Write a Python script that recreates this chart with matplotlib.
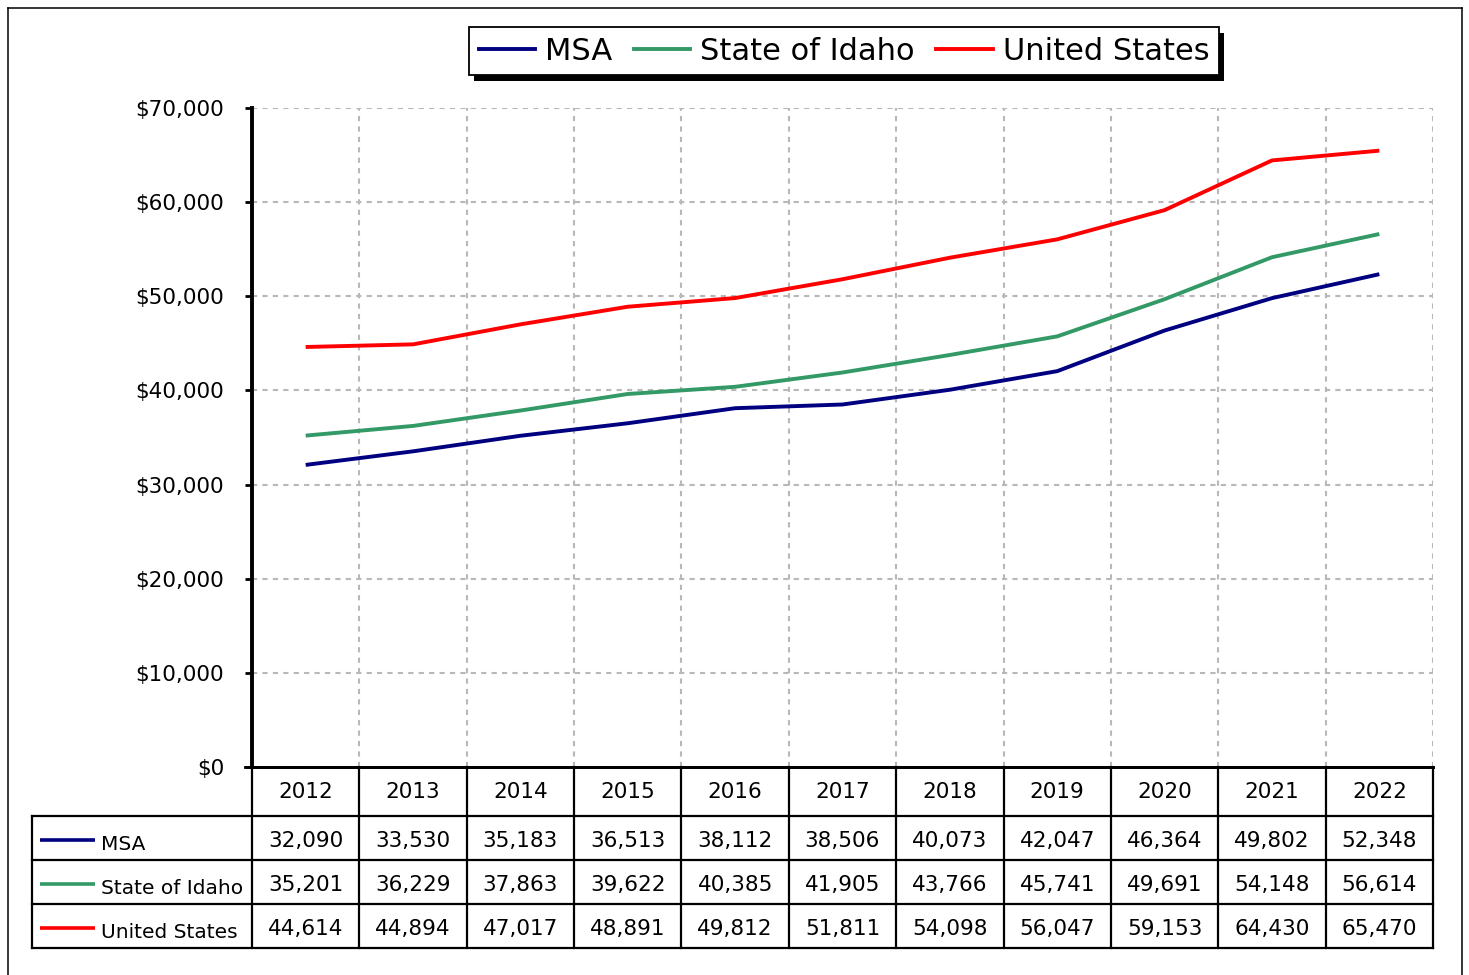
import matplotlib
matplotlib.use('Agg')
import matplotlib.pyplot as plt
from matplotlib.lines import Line2D
from matplotlib.patches import Rectangle
from matplotlib.ticker import FuncFormatter, FixedLocator, MultipleLocator

years = [2012, 2013, 2014, 2015, 2016, 2017, 2018, 2019, 2020, 2021, 2022]
msa = [32090, 33530, 35183, 36513, 38112, 38506, 40073, 42047, 46364, 49802, 52348]
idaho = [35201, 36229, 37863, 39622, 40385, 41905, 43766, 45741, 49691, 54148, 56614]
us = [44614, 44894, 47017, 48891, 49812, 51811, 54098, 56047, 59153, 64430, 65470]

series_names = ['MSA', 'State of Idaho', 'United States']
series_colors = ['#000080', '#339966', '#ff0000']
series_values = [msa, idaho, us]

W, H = 1469, 975
fig = plt.figure(figsize=(W / 100, H / 100), dpi=100)

# plot area (pixel layout)
ax = fig.add_axes([252 / W, 1 - 767 / H, 1181 / W, 659 / H])
x = list(range(len(years)))
for name, color, vals in zip(series_names, series_colors, series_values):
    ax.plot(x, vals, color=color, lw=2.8, label=name, solid_capstyle='butt', zorder=3)

ax.set_xlim(-0.5, len(years) - 0.5)
ax.set_ylim(0, 70000)
ax.yaxis.set_major_locator(MultipleLocator(10000))
ax.yaxis.set_major_formatter(FuncFormatter(lambda v, p: '${:,.0f}'.format(v)))
ax.xaxis.set_major_locator(FixedLocator([]))
ax.xaxis.set_minor_locator(FixedLocator([i + 0.5 for i in x]))
ax.tick_params(axis='y', length=5, width=2, pad=15, labelsize=15.5)
ax.tick_params(axis='x', which='both', length=0)
ax.grid(axis='y', which='major', color='#b8b8b8', lw=1.5, ls=(0, (2.5, 2.5)))
ax.grid(axis='x', which='minor', color='#b8b8b8', lw=1.5, ls=(0, (2.5, 2.5)))
ax.set_axisbelow(True)
for s in ['top', 'right']:
    ax.spines[s].set_visible(False)
ax.spines['left'].set_linewidth(2.8)
ax.spines['bottom'].set_linewidth(2)

# data table under the chart
px = 1181 / len(years)          # pixels per category
left = -0.5 - 220 / px
tax = fig.add_axes([32 / W, 1 - 948 / H, 1401 / W, 181 / H])
tax.set_xlim(left, len(years) - 0.5)
tax.set_ylim(181, 0)
tax.axis('off')
rows = [0, 49, 93, 137, 181]
lw_t = 1.6
tax.plot([-0.5 - 7 / px, len(years) - 0.5], [0, 0], color='black', lw=2, clip_on=False)
for r in rows[1:]:
    tax.plot([left, len(years) - 0.5], [r, r], color='black', lw=lw_t, clip_on=False)
tax.plot([left, left], [rows[1], rows[-1]], color='black', lw=lw_t, clip_on=False)
for i in range(len(years) + 1):
    tax.plot([i - 0.5, i - 0.5], [0, rows[-1]], color='black', lw=lw_t, clip_on=False)

for i, yr in enumerate(years):
    tax.text(i, (rows[0] + rows[1]) / 2, str(yr), ha='center', va='center', fontsize=15.5)
for k, (name, color, vals) in enumerate(zip(series_names, series_colors, series_values)):
    yc = (rows[k + 1] + rows[k + 2]) / 2
    tax.plot([left + 8 / px, left + 63 / px], [yc + 2, yc + 2], color=color, lw=2.6,
             solid_capstyle='butt')
    tax.text(left + 69 / px, yc + 6, name, ha='left', va='center', fontsize=14.5)
    for i, v in enumerate(vals):
        tax.text(i, yc + 3, '{:,}'.format(v), ha='center', va='center', fontsize=15.5)

# legend with solid black shadow
handles = [Line2D([], [], color=c, lw=2.8) for c in series_colors]
leg = fig.legend(handles, series_names, loc='center', bbox_to_anchor=(844 / W, 1 - 51 / H),
                 ncol=3, fontsize=22, frameon=True, fancybox=False, edgecolor='black',
                 framealpha=1, handlelength=1.85, handletextpad=0.33, columnspacing=0.7,
                 borderpad=0.3)
leg.get_frame().set_linewidth(1.3)
fig.canvas.draw()
bb = leg.get_window_extent()
fig.add_artist(Rectangle(((bb.x0 + 5) / W, (bb.y0 - 6) / H), bb.width / W, bb.height / H,
                         transform=fig.transFigure, facecolor='black', edgecolor='none',
                         zorder=leg.get_zorder() - 1))

# outer border (runs off the bottom edge in the reference)
for xs, ys in [([7.5, 7.5], [975, 8]), ([7.5, 1462], [8, 8]), ([1462, 1462], [8, 975])]:
    fig.add_artist(Line2D([v / W for v in xs], [1 - v / H for v in ys], color='black', lw=1.1))

fig.savefig('out.png', dpi=100)
